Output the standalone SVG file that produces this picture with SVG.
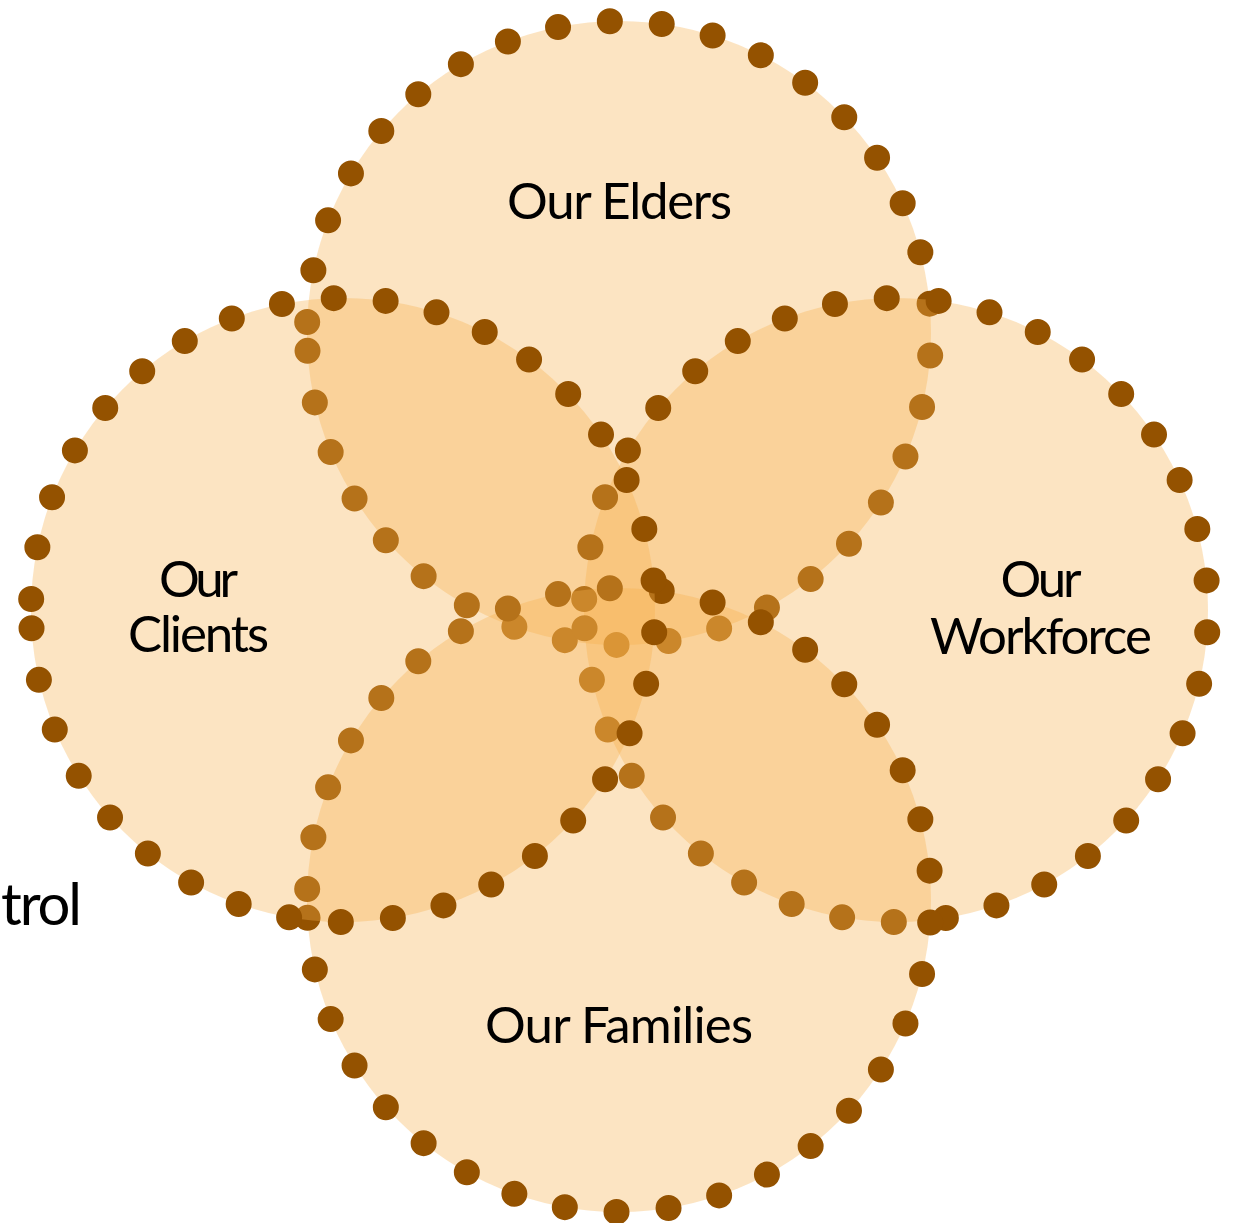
<svg xmlns="http://www.w3.org/2000/svg" width="1236" height="1223" viewBox="0 0 1236 1223">
  <style>
    .ring-fill { fill: #F6AF4D; fill-opacity: 0.34; stroke: none; }
    .ring-dots { fill: none; stroke: #945200; stroke-width: 26; stroke-linecap: round; stroke-dasharray: 0 52.17; }
    .label { font-family: Lato, "Open Sans", "Liberation Sans", sans-serif; font-size: 51px; fill: #000000; text-anchor: middle; }
    .stray { font-family: Lato, "Open Sans", "Liberation Sans", sans-serif; font-size: 58px; fill: #000000; text-anchor: start; }
  </style>

  <!-- stray text at the left edge -->
  <text class="stray" x="1" y="925" textLength="81">trol</text>

  <!-- Each circle: translucent fill, then a ring of round dots starting just above its leftmost point -->
  <g id="node-elders">
    <circle class="ring-fill" cx="619" cy="333" r="312"/>
    <path class="ring-dots" d="M307.19,322 A312,312 0 0 1 930.81,344 A312,312 0 0 1 307.19,322"/>
  </g>

  <g id="node-workforce">
    <circle class="ring-fill" cx="896" cy="610" r="312"/>
    <path class="ring-dots" d="M584.19,599 A312,312 0 0 1 1207.81,621 A312,312 0 0 1 584.19,599"/>
  </g>

  <g id="node-families">
    <circle class="ring-fill" cx="619" cy="900" r="312"/>
    <path class="ring-dots" d="M307.19,889 A312,312 0 0 1 930.81,911 A312,312 0 0 1 307.19,889"/>
  </g>

  <g id="node-clients">
    <circle class="ring-fill" cx="343" cy="610" r="312"/>
    <path class="ring-dots" d="M31.19,599 A312,312 0 0 1 654.81,621 A312,312 0 0 1 31.19,599"/>
  </g>

  <!-- no connectors in this figure -->
  <g id="connectors"/>

  <g id="labels">
    <text class="label" x="619.5" y="219" textLength="225">Our Elders</text>
    <text class="label" x="198.5" y="597" textLength="79">Our</text>
    <text class="label" x="198.5" y="652" textLength="141">Clients</text>
    <text class="label" x="1041" y="597" textLength="81">Our</text>
    <text class="label" x="1041" y="654" textLength="222">Workforce</text>
    <text class="label" x="619" y="1043" textLength="268">Our Families</text>
  </g>
</svg>
